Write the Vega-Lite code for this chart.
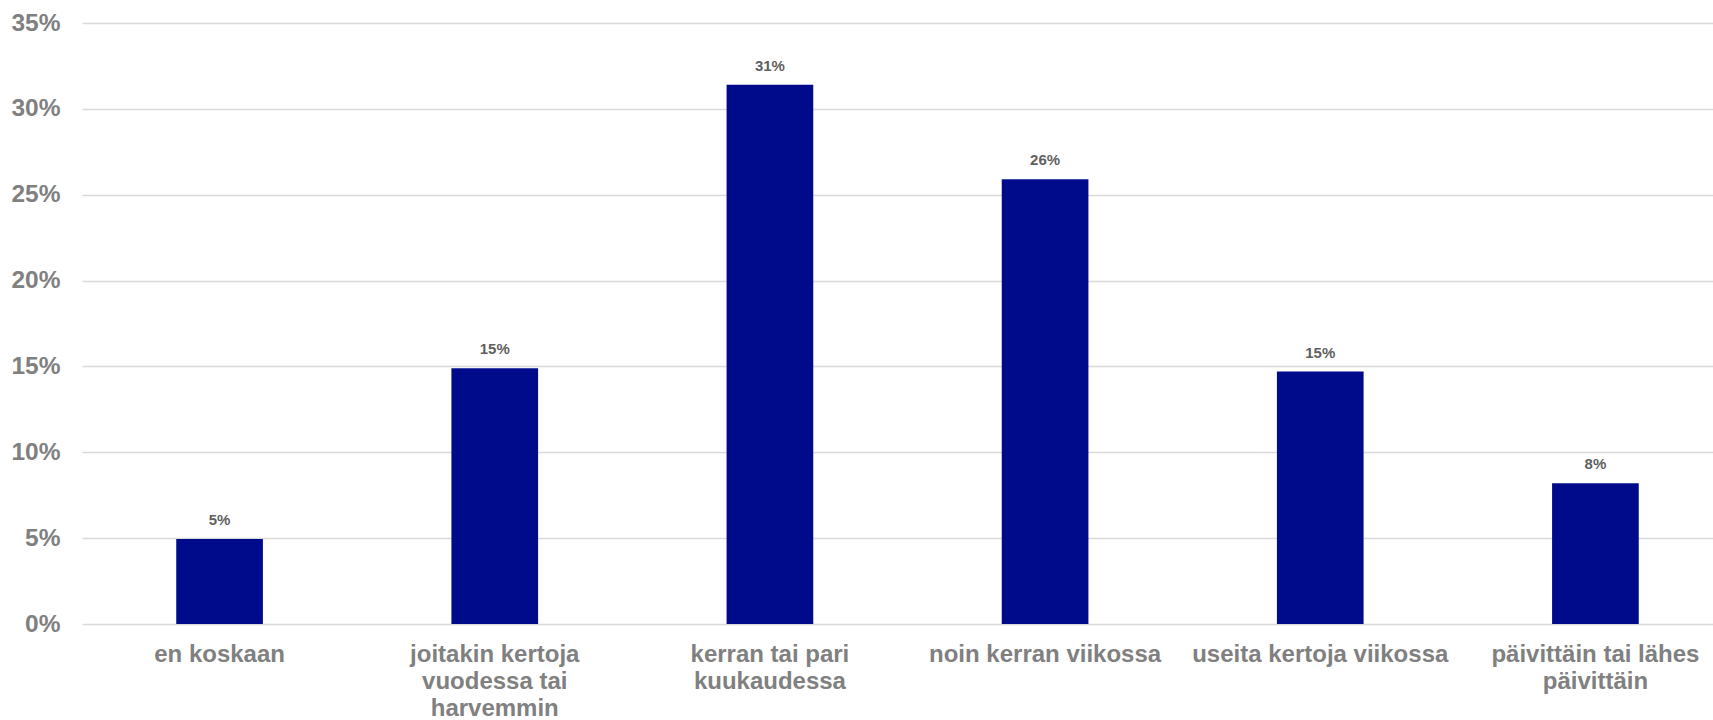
{
  "$schema": "https://vega.github.io/schema/vega-lite/v6.json",
  "autosize": {"type": "none"},
  "padding": {"left": 82, "top": 23, "right": 0, "bottom": 96},
  "width": 1631,
  "height": 601,
  "background": "white",
  "config": {
    "view": {"stroke": null},
    "font": "Liberation Sans"
  },
  "data": {
    "values": [
      {"category": "en koskaan", "share": 0.0495},
      {"category": "joitakin kertoja vuodessa tai harvemmin", "share": 0.149},
      {"category": "kerran tai pari kuukaudessa", "share": 0.314},
      {"category": "noin kerran viikossa", "share": 0.259},
      {"category": "useita kertoja viikossa", "share": 0.147},
      {"category": "päivittäin tai lähes päivittäin", "share": 0.082}
    ]
  },
  "encoding": {
    "x": {
      "field": "category",
      "type": "nominal",
      "sort": null,
      "scale": {"range": [0, 1651], "paddingInner": 0.685, "paddingOuter": 0.3425},
      "axis": {
        "title": null,
        "domain": false,
        "ticks": false,
        "labelAngle": 0,
        "labelFont": "Liberation Sans",
        "labelFontWeight": "bold",
        "labelFontSize": 24,
        "labelColor": "#808080",
        "labelPadding": 18,
        "labelLineHeight": 27,
        "labelBaseline": "top",
        "labelLimit": 400,
        "labelExpr": "datum.value == 'joitakin kertoja vuodessa tai harvemmin' ? ['joitakin kertoja', 'vuodessa tai', 'harvemmin'] : datum.value == 'kerran tai pari kuukaudessa' ? ['kerran tai pari', 'kuukaudessa'] : datum.value == 'päivittäin tai lähes päivittäin' ? ['päivittäin tai lähes', 'päivittäin'] : datum.value"
      }
    },
    "y": {
      "field": "share",
      "type": "quantitative",
      "scale": {"domain": [0, 0.35]},
      "axis": {
        "title": null,
        "domain": false,
        "ticks": false,
        "values": [0, 0.05, 0.1, 0.15, 0.2, 0.25, 0.3, 0.35],
        "format": ".0%",
        "labelFont": "Liberation Sans",
        "labelFontWeight": "bold",
        "labelFontSize": 24.5,
        "labelColor": "#808080",
        "labelPadding": 22,
        "gridColor": "#d9d9d9",
        "gridWidth": 1.5
      }
    }
  },
  "layer": [
    {
      "mark": {"type": "bar", "color": "#000B8C"}
    },
    {
      "mark": {
        "type": "text",
        "dy": -19,
        "baseline": "middle",
        "font": "Liberation Sans",
        "fontWeight": "bold",
        "fontSize": 15,
        "color": "#5f5f5f"
      },
      "encoding": {
        "text": {"field": "share", "type": "quantitative", "format": ".0%"}
      }
    }
  ]
}
